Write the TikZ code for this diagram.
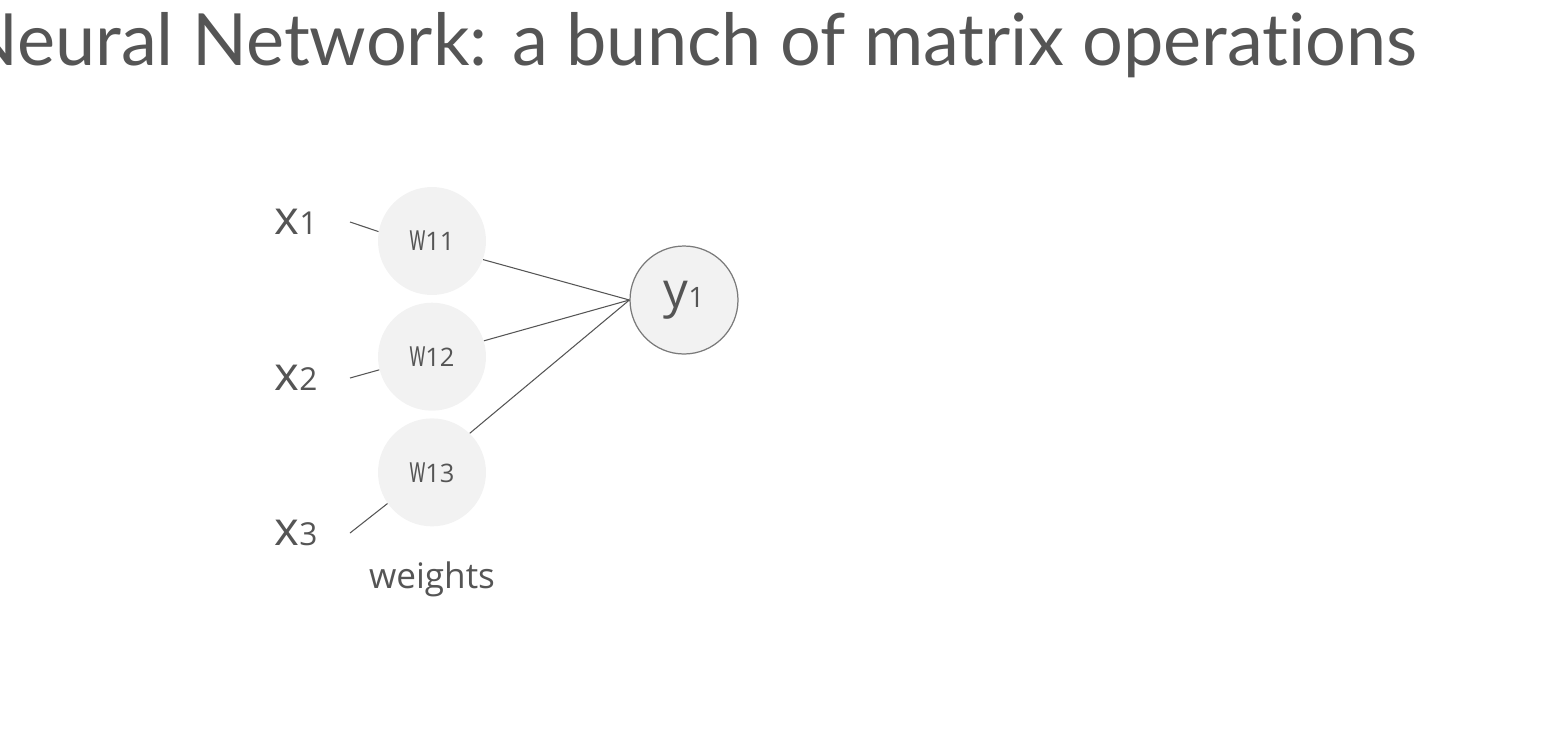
\documentclass[tikz,border=0pt]{standalone}
\usepackage{fontspec}
\setmainfont{Open Sans}
\newfontfamily\titlefont[Ligatures=NoCommon]{Lato}
\newfontfamily\narrowfont[FakeStretch=0.55]{Open Sans}
\usetikzlibrary{positioning}
\definecolor{inkgray}{HTML}{555555}
\definecolor{cellgray}{HTML}{F2F2F2}
\definecolor{rimgray}{HTML}{7A7A7A}
\newcommand\wlabel[1]{{\narrowfont\fontsize{21}{24}\selectfont w}{\fontsize{14.5}{16}\selectfont #1}}
\newcommand\xlabel[1]{{\fontsize{27}{30}\selectfont x}{\fontsize{18}{20}\selectfont #1}}

\begin{document}
\begin{tikzpicture}[x=0.02cm,y=-0.02cm,
  weight/.style={circle,fill=cellgray,minimum size=2.16cm,inner sep=0pt,text=inkgray},
  neuron/.style={circle,fill=cellgray,draw=rimgray,line width=0.7pt,minimum size=2.16cm,inner sep=0pt,text=inkgray},
  inlabel/.style={inner sep=0pt,text=inkgray},
  wire/.style={inkgray,line width=0.6pt}]
\useasboundingbox (0,0) rectangle (1568,748);
\node[anchor=base east,inner sep=0pt,text=inkgray,font=\titlefont\fontsize{41}{48}\selectfont] (title) at (1418,65) {Neural Network: a bunch of matrix operations};

\node[weight] (w11) at (432,241) {\wlabel{11}};
\node[weight,below=0.14cm of w11] (w12) {\wlabel{12}};
\node[weight,below=0.14cm of w12] (w13) {\wlabel{13}};
\node[inlabel,below=0.7cm of w13,font=\fontsize{20}{24}\selectfont] (weights) {weights};
\node[neuron] (y1) at (684,300) {{\fontsize{28}{30}\selectfont y}{\fontsize{16}{18}\selectfont 1}};

\node[inlabel] (x1) at (296,222) {\xlabel{1}};
\node[inlabel] (x2) at (296,378) {\xlabel{2}};
\node[inlabel] (x3) at (296,533) {\xlabel{3}};
\coordinate (x1end) at (350,222);
\coordinate (x2end) at (350,378);
\coordinate (x3end) at (350,533);

\draw[wire] (x1end) -- (w11.170);
\draw[wire] (x2end) -- (w12.194);
\draw[wire] (x3end) -- (w13.215);
\draw[wire] (w11.-20) -- (y1.west);
\draw[wire] (w12.17) -- (y1.west);
\draw[wire] (w13.46) -- (y1.west);
\end{tikzpicture}
\end{document}
